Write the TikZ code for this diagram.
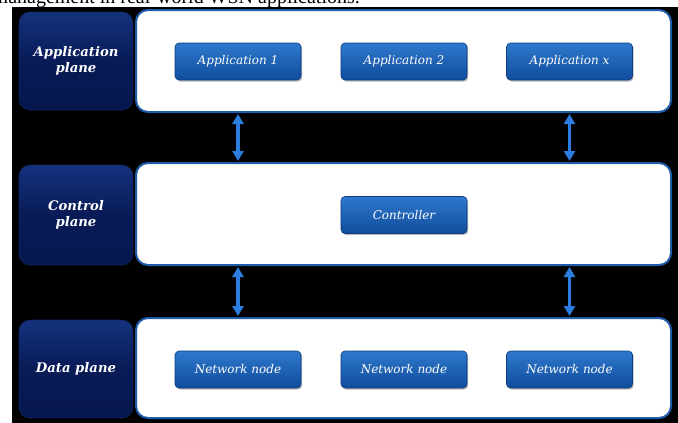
\documentclass[tikz,border=0pt]{standalone}
\usepackage{fontspec}
\setmainfont{DejaVu Serif}
\newfontfamily\toptextfont{Liberation Serif}
\usetikzlibrary{arrows.meta,shadows}
\definecolor{navytop}{HTML}{15327E}
\definecolor{navybot}{HTML}{06174F}
\definecolor{btntop}{HTML}{2E78CC}
\definecolor{btnbot}{HTML}{104C9C}
\definecolor{btnedge}{HTML}{0C3D80}
\definecolor{paneledge}{HTML}{1E5CAA}
\definecolor{arrowblue}{HTML}{2B7DE0}
\tikzset{
  labelbox/.style={rounded corners=11pt, top color=navytop, bottom color=navybot,
    middle color=navybot!85!navytop, draw=navytop!70!black, line width=0.6pt,
    text=white, align=center, inner sep=0pt,
    font=\fontsize{13.2}{16}\selectfont\bfseries\itshape},
  panel/.style={rounded corners=12pt, fill=white, draw=paneledge, line width=2pt,
    minimum width=535pt},
  button/.style={rounded corners=4pt, top color=btntop, bottom color=btnbot,
    draw=btnedge, line width=0.6pt, minimum width=126pt, minimum height=37pt,
    text=white, inner sep=0pt, font=\fontsize{12}{14}\selectfont\itshape,
    drop shadow={shadow xshift=1.2pt, shadow yshift=-1.5pt, fill=black!45, opacity=0.6}},
  link/.style={arrowblue, line width=3.6pt, shorten <=1pt, shorten >=1pt,
    {Triangle[width=11pt,length=10pt]}-{Triangle[width=11pt,length=10pt]}}
}
\begin{document}
\begin{tikzpicture}[x=1pt,y=-1pt]
\useasboundingbox (0,0) rectangle (678,423);
\clip (0,0) rectangle (678,423);
\fill[white] (0,0) rectangle (678,423);
\node[anchor=base east, inner sep=0pt, font=\toptextfont\fontsize{20}{24}\selectfont] (caption) at (360,3) {management in real-world WSN applications.};
\fill[black] (12,7) rectangle (678,423);

% left labels
\node[labelbox, minimum width=114pt, minimum height=98pt] (lapp) at (76,61) {Application\\plane};
\node[labelbox, minimum width=114pt, minimum height=100pt] (lctl) at (76,215) {Control\\plane};
\node[labelbox, minimum width=114pt, minimum height=98pt] (ldat) at (76,369) {Data plane};

% panels
\node[panel, minimum height=102pt] (papp) at (403.5,61) {};
\node[panel, minimum height=102pt] (pctl) at (403.5,214) {};
\node[panel, minimum height=100pt] (pdat) at (403.5,368) {};

% buttons
\node[button] (app1) at (238,61.5) {Application 1};
\node[button] (app2) at (404,61.5) {Application 2};
\node[button] (appx) at (569.5,61.5) {Application x};
\node[button] (ctrl) at (404,215) {Controller};
\node[button] (nn1) at (238,369.5) {Network node};
\node[button] (nn2) at (404,369.5) {Network node};
\node[button] (nn3) at (569.5,369.5) {Network node};

% links
\draw[link] (app1 |- papp.south) -- (app1 |- pctl.north);
\draw[link] (appx |- papp.south) -- (appx |- pctl.north);
\draw[link] (nn1 |- pctl.south) -- (nn1 |- pdat.north);
\draw[link] (nn3 |- pctl.south) -- (nn3 |- pdat.north);
\end{tikzpicture}
\end{document}
